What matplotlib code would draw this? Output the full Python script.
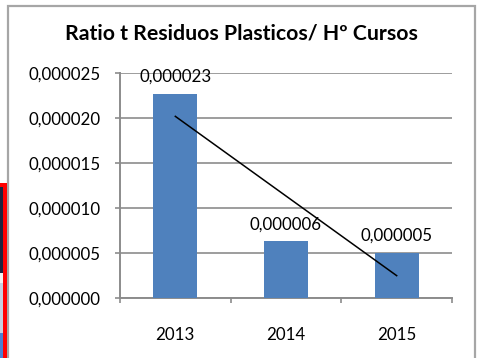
import numpy as np
import matplotlib
matplotlib.use("Agg")
import matplotlib.pyplot as plt
from matplotlib.patches import Rectangle
from matplotlib.ticker import FuncFormatter, MultipleLocator, FixedLocator

years = ["2013", "2014", "2015"]
ratio = [0.0000227, 0.0000063, 0.0000050]
labels = ["0,000023", "0,000006", "0,000005"]

plt.rcParams["font.family"] = ["Lato", "DejaVu Sans"]

W, H = 493, 358
fig = plt.figure(figsize=(W / 100, H / 100), dpi=100)

# outer chart frame
fig.patches.append(Rectangle((8 / W, -0.05), (475 - 8) / W, 1 - 6 / H + 0.05,
                             transform=fig.transFigure, fill=False,
                             edgecolor="#a6a6a6", linewidth=1.6))

# bits of the neighbouring sheet on the left edge
fig.patches.append(Rectangle((0, 0), 7 / W, 1 - 183 / H, transform=fig.transFigure,
                             facecolor="#ff0000", edgecolor="none"))
fig.patches.append(Rectangle((0, 1 - 273 / H), 3 / W, (273 - 187) / H, transform=fig.transFigure,
                             facecolor="#1b2540", edgecolor="none"))
fig.patches.append(Rectangle((0, 1 - 283 / H), 3 / W, 10 / H, transform=fig.transFigure,
                             facecolor="#f2f2f2", edgecolor="none"))
fig.patches.append(Rectangle((0, 1 - 333 / H), 3 / W, 50 / H, transform=fig.transFigure,
                             facecolor="#c5d0e0", edgecolor="none"))
fig.patches.append(Rectangle((0, 0), 3 / W, 25 / H, transform=fig.transFigure,
                             facecolor="#4a7fd0", edgecolor="none"))

ax = fig.add_axes([120 / W, 1 - 298 / H, (452 - 120) / W, (298 - 73) / H])

x = np.arange(len(years))
ax.bar(x, ratio, width=0.4, color="#4f81bd", zorder=3)

# linear trend line
k, b = np.polyfit(x, ratio, 1)
ax.plot(x, k * x + b, color="black", linewidth=1.1, zorder=4)

for xi, v, s in zip(x, ratio, labels):
    ax.annotate(s, (xi, v), xytext=(0, 6.5), textcoords="offset points",
                ha="center", va="bottom", fontsize=12.2, zorder=5)

ax.set_xlim(-0.5, 2.5)
ax.set_ylim(0, 0.000025)
ax.yaxis.set_major_locator(MultipleLocator(0.000005))
ax.yaxis.set_major_formatter(FuncFormatter(lambda v, p: f"{v:.6f}".replace(".", ",")))
ax.grid(axis="y", color="#8c8c8c", linewidth=1.2, zorder=1)

ax.set_xticks(x)
ax.set_xticklabels(years)
ax.xaxis.set_minor_locator(FixedLocator([-0.5, 0.5, 1.5, 2.5]))
ax.tick_params(axis="x", which="major", length=0, pad=21, labelsize=12.2)
ax.tick_params(axis="x", which="minor", length=3.6, width=1.2, color="#8c8c8c")
ax.tick_params(axis="y", length=3.6, width=1.2, color="#8c8c8c", pad=10.5, labelsize=12.2)

for side in ["top", "right"]:
    ax.spines[side].set_visible(False)
for side in ["left", "bottom"]:
    ax.spines[side].set_color("#8c8c8c")
    ax.spines[side].set_linewidth(1.4)

fig.text(241 / W, 1 - 34 / H, "Ratio t Residuos Plasticos/ Hº Cursos",
         ha="center", va="center", fontsize=15.3, fontweight="bold")

fig.savefig("out.png", dpi=100)
